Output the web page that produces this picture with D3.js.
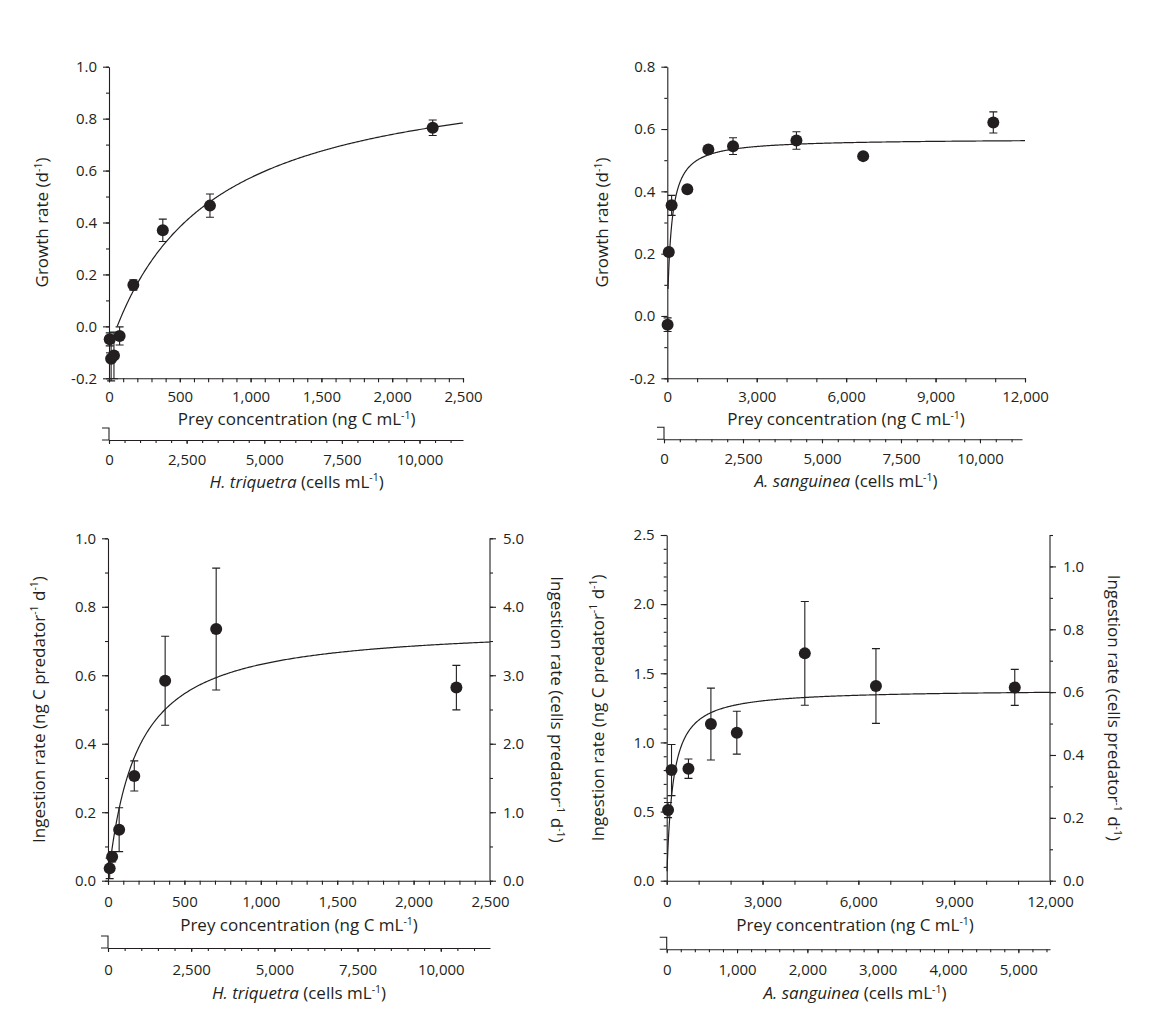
<!DOCTYPE html>
<html><head><meta charset="utf-8">
<script src="https://cdn.jsdelivr.net/npm/d3@7"></script>
<style>
body{margin:0;background:#fff}
svg{display:block}
text{font-family:"Open Sans",sans-serif;fill:#231f20}
</style>
</head><body>
<svg id="chart" width="1150" height="1025"></svg>
<script>
// ---------- DATA ----------
// Panel A: H. triquetra growth
const htPreyGrowth = [5, 15, 35, 75, 172, 380, 713, 2286];
const htGrowth     = [-0.05, -0.125, -0.112, -0.037, 0.159, 0.37, 0.465, 0.765];
const htGrowthErr  = [0.025, 0.085, 0.09, 0.035, 0.02, 0.043, 0.045, 0.03];
const htGrowthFit  = {max: 1.019, k: 735, threshold: 58, start: 58};

// Panel B: A. sanguinea growth
const asPreyGrowth = [10, 50, 145, 672, 1377, 2205, 4332, 6571, 10937];
const asGrowth     = [-0.028, 0.205, 0.355, 0.407, 0.534, 0.545, 0.563, 0.513, 0.621];
const asGrowthErr  = [0.022, 0.01, 0.032, 0.008, 0.006, 0.027, 0.028, 0.006, 0.034];
const asGrowthFit  = {max: 0.569, k: 138.5, threshold: 0, start: 25};

// Panel C: H. triquetra ingestion
const htPreyIng = [11, 27, 73, 172, 374, 708, 2280];
const htIng     = [0.036, 0.07, 0.149, 0.306, 0.584, 0.735, 0.564];
const htIngErr  = [0.03, 0.015, 0.064, 0.044, 0.13, 0.178, 0.065];
const htIngFit  = {max: 0.749, k: 186, threshold: 0, start: 5};

// Panel D: A. sanguinea ingestion
const asPreyIng = [43, 151, 681, 1384, 2195, 4324, 6551, 10897];
const asIng     = [0.511, 0.80, 0.81, 1.133, 1.07, 1.644, 1.408, 1.398];
const asIngErr  = [0.055, 0.185, 0.07, 0.26, 0.155, 0.375, 0.27, 0.13];
const asIngFit  = {max: 1.384, k: 192.4, threshold: 0, start: 10};

// Tick values
const xTicksHt = [0, 500, 1000, 1500, 2000, 2500];
const xTicksAs = [0, 3000, 6000, 9000, 12000];
const cellTicksHt = [0, 2500, 5000, 7500, 10000];
const cellTicksAsTop = [0, 2500, 5000, 7500, 10000];
const cellTicksAsBottom = [0, 1000, 2000, 3000, 4000, 5000];
const yTicksGrowthHt = [-0.2, 0, 0.2, 0.4, 0.6, 0.8, 1.0];
const yTicksGrowthAs = [-0.2, 0, 0.2, 0.4, 0.6, 0.8];
const yTicksIngHt = [0, 0.2, 0.4, 0.6, 0.8, 1.0];
const yTicksIngHtCells = [0, 1, 2, 3, 4, 5];
const yTicksIngAs = [0, 0.5, 1.0, 1.5, 2.0, 2.5];
const yTicksIngAsCells = [0, 0.2, 0.4, 0.6, 0.8, 1.0];

// ---------- DRAWING ----------
const INK = "#231f20";
const svg = d3.select("#chart");
const fmtInt = d3.format(",");
const fmt1 = d => d.toFixed(1);
const stepRange = (a, b, s) => d3.range(Math.round(a / s), Math.floor(b / s + 1e-9) + 1).map(i => +(i * s).toFixed(6));

function rich(g, x, y, parts, size, rotate) {
  const t = g.append("text")
    .attr("text-anchor", "middle")
    .attr("font-size", size)
    .attr("transform", `translate(${x},${y})` + (rotate ? ` rotate(${rotate})` : ""));
  let raised = false;
  parts.forEach(([str, kind]) => {
    const ts = t.append("tspan").text(str);
    if (kind === "i") ts.attr("font-style", "italic");
    if (kind === "s") {
      ts.attr("font-size", size * 0.62).attr("dy", -size * 0.38);
      raised = true;
    } else if (raised) {
      ts.attr("dy", size * 0.38);
      raised = false;
    }
  });
  return t;
}

function styleAxis(g) {
  g.selectAll("path.domain").attr("stroke", INK).attr("stroke-width", 1.1);
  g.selectAll(".tick line").attr("stroke", INK).attr("stroke-width", 1.1);
  g.selectAll(".tick text").attr("fill", INK).attr("font-size", 15)
    .attr("font-family", '"Open Sans",sans-serif');
}

function panel(cfg) {
  const g = svg.append("g");
  const x = d3.scaleLinear().domain(cfg.xDomain).range([cfg.left, cfg.right]);
  const y = d3.scaleLinear().domain(cfg.yDomain).range([cfg.bottom, cfg.top]);

  // minor ticks
  const yMinorG = g.append("g").attr("transform", `translate(${cfg.left},0)`)
    .call(d3.axisLeft(y).tickValues(stepRange(cfg.yDomain[0], cfg.yDomain[1], cfg.yMinor)).tickSize(3).tickFormat(""));
  yMinorG.select(".domain").remove();
  styleAxis(yMinorG);
  const xMinorG = g.append("g").attr("transform", `translate(0,${cfg.bottom})`)
    .call(d3.axisBottom(x).tickValues(stepRange(cfg.xDomain[0], cfg.xDomain[1], cfg.xMinor)).tickSize(4).tickFormat(""));
  xMinorG.select(".domain").remove();
  styleAxis(xMinorG);

  // major y
  const yG = g.append("g").attr("transform", `translate(${cfg.left},0)`)
    .call(d3.axisLeft(y).tickValues(cfg.yTicks).tickSize(6).tickSizeOuter(0).tickPadding(6).tickFormat(fmt1));
  styleAxis(yG);
  // major x
  const xG = g.append("g").attr("transform", `translate(0,${cfg.bottom})`)
    .call(d3.axisBottom(x).tickValues(cfg.xTicks).tickSize(4).tickSizeOuter(0).tickFormat(fmtInt));
  styleAxis(xG);
  xG.selectAll(".tick text").attr("dy", null).attr("y", cfg.xLabelOff);

  // right axis
  if (cfg.y2Domain) {
    const y2range = d3.scaleLinear().domain(cfg.y2Domain).range([cfg.bottom, cfg.y2Top]);
    const r2Minor = g.append("g").attr("transform", `translate(${cfg.right},0)`)
      .call(d3.axisRight(y2range).tickValues(stepRange(cfg.y2Domain[0], cfg.y2Domain[1], cfg.y2Minor)).tickSize(3).tickFormat(""));
    r2Minor.select(".domain").remove();
    styleAxis(r2Minor);
    const r2 = g.append("g").attr("transform", `translate(${cfg.right},0)`)
      .call(d3.axisRight(y2range).tickValues(cfg.y2Ticks).tickSize(6).tickSizeOuter(0).tickPadding(7).tickFormat(fmt1));
    r2.select(".domain").remove();
    styleAxis(r2);
    g.append("line").attr("x1", cfg.right).attr("x2", cfg.right).attr("y1", cfg.top).attr("y2", cfg.bottom)
      .attr("stroke", INK).attr("stroke-width", 1.1);
    rich(g, cfg.y2TitleX, (cfg.top + cfg.bottom) / 2, cfg.y2Title, 17, 90);
  }

  // secondary cell axis
  const c = d3.scaleLinear().domain(cfg.cDomain).range(cfg.cRange);
  const cMinorG = g.append("g").attr("transform", `translate(0,${cfg.cY})`)
    .call(d3.axisBottom(c).tickValues(stepRange(cfg.cDomain[0], cfg.cDomain[1], cfg.cMinor)).tickSize(3).tickFormat(""));
  cMinorG.select(".domain").remove();
  styleAxis(cMinorG);
  const cG = g.append("g").attr("transform", `translate(0,${cfg.cY})`)
    .call(d3.axisBottom(c).tickValues(cfg.cTicks).tickSize(4).tickSizeOuter(0).tickFormat(fmtInt));
  styleAxis(cG);
  cG.selectAll(".tick text").attr("dy", null).attr("y", cfg.cLabelOff);
  // break stub
  const bx = cfg.cRange[0];
  g.append("path")
    .attr("d", `M${bx - 7},${cfg.cY - 12}H${bx}V${cfg.cY}M${bx - 7},${cfg.cY}H${bx}`)
    .attr("fill", "none").attr("stroke", INK).attr("stroke-width", 1.1);

  // titles
  rich(g, cfg.xTitleX, cfg.bottom + cfg.xTitleOff, [["Prey concentration (ng C mL", "n"], ["-1", "s"], [")", "n"]], 17);
  rich(g, cfg.xTitleX, cfg.cY + cfg.cTitleOff, [[cfg.species, "i"], [" (cells mL", "n"], ["-1", "s"], [")", "n"]], 17);
  rich(g, cfg.yTitleX, (cfg.top + cfg.bottom) / 2, cfg.yTitle, 17, -90);

  // fit curve
  const f = cfg.fit;
  const n = 400;
  const xs = d3.range(n + 1).map(i => f.start + (cfg.xDomain[1] - f.start) * Math.pow(i / n, 2));
  const line = d3.line().x(d => x(d)).y(d => y(f.max * (d - f.threshold) / (f.k + d - f.threshold)));
  g.append("path").datum(xs).attr("d", line).attr("fill", "none").attr("stroke", INK).attr("stroke-width", 1.2);

  // error bars
  const pts = cfg.xs.map((xv, i) => ({x: xv, y: cfg.ys[i], e: cfg.es[i]}));
  const eb = g.append("g").attr("stroke", INK).attr("stroke-width", 1.1).attr("fill", "none");
  pts.forEach(p => {
    const px = x(p.x), y1 = y(p.y - p.e), y2 = y(p.y + p.e);
    eb.append("path").attr("d", `M${px},${y1}V${y2}M${px - 4},${y1}H${px + 4}M${px - 4},${y2}H${px + 4}`);
  });
  g.append("g").selectAll("circle").data(pts).join("circle")
    .attr("cx", d => x(d.x)).attr("cy", d => y(d.y)).attr("r", 6).attr("fill", INK);
}

const growthTitle = [["Growth rate (d", "n"], ["-1", "s"], [")", "n"]];
const ingTitleC = [["Ingestion rate (ng C predator", "n"], ["-1", "s"], [" d", "n"], ["-1", "s"], [")", "n"]];
const ingTitleCells = [["Ingestion rate (cells predator", "n"], ["-1", "s"], [" d", "n"], ["-1", "s"], [")", "n"]];

panel({
  left: 109, right: 463, top: 66.7, bottom: 378.3,
  xDomain: [0, 2500], xTicks: xTicksHt, xMinor: 100,
  yDomain: [-0.2, 1.0], yTicks: yTicksGrowthHt, yMinor: 0.1,
  xLabelOff: 23.5, xTitleOff: 47, xTitleX: 296.7,
  cY: 440, cRange: [109, 463], cDomain: [0, 11400], cTicks: cellTicksHt, cMinor: 500,
  cLabelOff: 24.5, cTitleOff: 47.5, species: "H. triquetra",
  yTitleX: 48, yTitle: growthTitle,
  xs: htPreyGrowth, ys: htGrowth, es: htGrowthErr, fit: htGrowthFit
});

panel({
  left: 667.3, right: 1025, top: 66.7, bottom: 378.3,
  xDomain: [0, 12000], xTicks: xTicksAs, xMinor: 1000,
  yDomain: [-0.2, 0.8], yTicks: yTicksGrowthAs, yMinor: 0.1,
  xLabelOff: 23.5, xTitleOff: 47, xTitleX: 846,
  cY: 439.3, cRange: [664, 1022], cDomain: [0, 11330], cTicks: cellTicksAsTop, cMinor: 500,
  cLabelOff: 24.5, cTitleOff: 48, species: "A. sanguinea",
  yTitleX: 608, yTitle: growthTitle,
  xs: asPreyGrowth, ys: asGrowth, es: asGrowthErr, fit: asGrowthFit
});

panel({
  left: 108, right: 490, top: 538.3, bottom: 880.7,
  xDomain: [0, 2500], xTicks: xTicksHt, xMinor: 100,
  yDomain: [0, 1.0], yTicks: yTicksIngHt, yMinor: 0.1,
  y2Domain: [0, 5], y2Top: 538.3, y2Ticks: yTicksIngHtCells, y2Minor: 0.5,
  y2TitleX: 550.6, y2Title: ingTitleCells,
  xLabelOff: 26, xTitleOff: 50.5, xTitleX: 299,
  cY: 948, cRange: [108, 490], cDomain: [0, 11480], cTicks: cellTicksHt, cMinor: 500,
  cLabelOff: 27, cTitleOff: 51, species: "H. triquetra",
  yTitleX: 44.6, yTitle: ingTitleC,
  xs: htPreyIng, ys: htIng, es: htIngErr, fit: htIngFit
});

panel({
  left: 666.7, right: 1050, top: 535, bottom: 880.7,
  xDomain: [0, 12000], xTicks: xTicksAs, xMinor: 1000,
  yDomain: [0, 2.5], yTicks: yTicksIngAs, yMinor: 0.1,
  y2Domain: [0, 1.1], y2Top: 535, y2Ticks: yTicksIngAsCells, y2Minor: 0.1,
  y2TitleX: 1108, y2Title: ingTitleCells,
  xLabelOff: 26, xTitleOff: 50.5, xTitleX: 855,
  cY: 949.3, cRange: [666.7, 1050], cDomain: [0, 5450], cTicks: cellTicksAsBottom, cMinor: 200,
  cLabelOff: 26, cTitleOff: 50, species: "A. sanguinea",
  yTitleX: 603.9, yTitle: ingTitleC,
  xs: asPreyIng, ys: asIng, es: asIngErr, fit: asIngFit
});
</script>
</body></html>
